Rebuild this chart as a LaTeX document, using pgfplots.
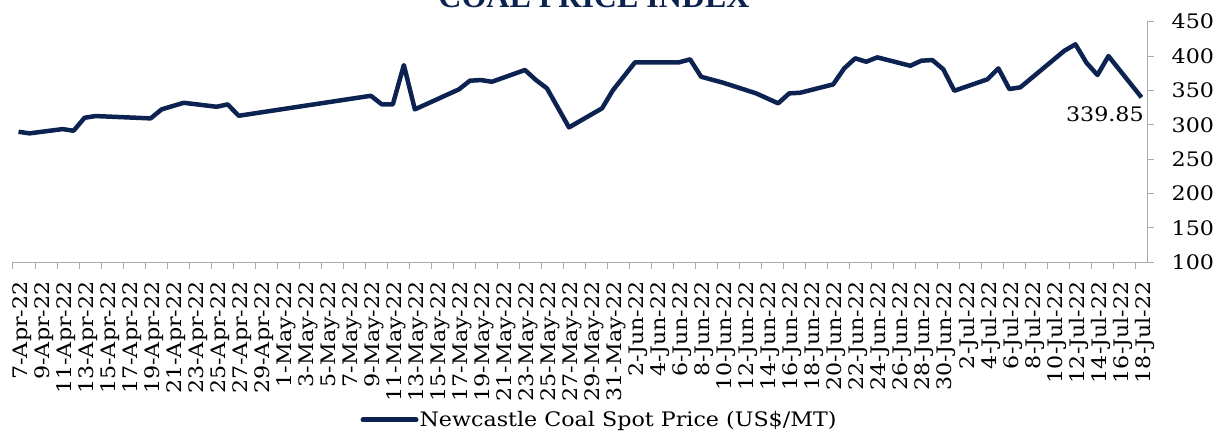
\documentclass[border=0pt]{standalone}
\usepackage{fontspec}
\setmainfont{DejaVu Serif}[FakeStretch=1.11]
\newfontfamily\titlefont{Liberation Serif}
\usepackage{pgfplots}
\pgfplotsset{compat=1.18}
\definecolor{navy}{RGB}{12,35,82}
\definecolor{axgray}{RGB}{170,170,170}
\newcommand{\lblfont}{\fontsize{20bp}{24bp}\selectfont}
\begin{document}
\begin{tikzpicture}
\begin{axis}[
  at={(0,0)}, anchor=south west,
  scale only axis, width=1134bp, height=240.5bp,
  xmin=-0.5, xmax=102.5, ymin=100, ymax=450,
  axis x line*=bottom, axis y line*=right,
  axis line style={axgray, line width=1bp},
  every tick/.style={axgray, line width=1bp},
  tick align=outside, major tick length=7bp,
  xtick={-0.5,1.5,...,101.5},
  xticklabels={7-Apr-22,9-Apr-22,11-Apr-22,13-Apr-22,15-Apr-22,17-Apr-22,19-Apr-22,21-Apr-22,23-Apr-22,25-Apr-22,27-Apr-22,29-Apr-22,
  1-May-22,3-May-22,5-May-22,7-May-22,9-May-22,11-May-22,13-May-22,15-May-22,17-May-22,19-May-22,21-May-22,23-May-22,25-May-22,27-May-22,29-May-22,31-May-22,
  2-Jun-22,4-Jun-22,6-Jun-22,8-Jun-22,10-Jun-22,12-Jun-22,14-Jun-22,16-Jun-22,18-Jun-22,20-Jun-22,22-Jun-22,24-Jun-22,26-Jun-22,28-Jun-22,30-Jun-22,
  2-Jul-22,4-Jul-22,6-Jul-22,8-Jul-22,10-Jul-22,12-Jul-22,14-Jul-22,16-Jul-22,18-Jul-22},
  xticklabel style={xshift=8.7bp, yshift=-12bp, rotate=90, anchor=east, inner sep=0pt, font=\lblfont, text=black},
  ytick={100,150,...,450},
  yticklabel style={xshift=17.5bp, anchor=west, inner sep=0pt, font=\lblfont, text=black},
  /pgf/number format/assume math mode=true,
  legend style={at={(0.5168,-0.656)}, anchor=center, draw=none, fill=none, inner sep=0pt,
    font=\lblfont, nodes={inner sep=1bp},
    /tikz/every even column/.append style={column sep=0pt}},
  legend image code/.code={\draw[#1, line width=5bp, line cap=round] (0bp,0bp) -- (53bp,0bp);},
]
\addplot[navy, line width=4.5bp, line join=round] coordinates {
(0,289.8) (1,287.5) (4,293.7) (5,291.3) (6,310.2) (7,312.7) (12,309.3) (13,322.4)
(15,332.0) (18,326.2) (19,329.7) (20,313.1) (32,342.2) (33,329.7) (34,329.7) (35,386.9)
(36,322.4) (40,351.5) (41,364.1) (42,365.1) (43,362.6) (46,379.7) (47,365.1) (48,353.0)
(50,296.2) (53,323.9) (54,350.5) (56,390.9) (60,390.9) (61,395.2) (62,369.9) (64,361.2)
(67,345.7) (69,331.2) (70,345.7) (71,346.6) (74,358.8) (75,382.1) (76,396.7) (77,391.7)
(78,398.1) (81,385.9) (82,393.2) (83,394.2) (84,380.7) (85,349.5) (88,366.1) (89,382.1)
(90,352.0) (91,354.5) (95,407.8) (96,417.1) (97,390.3) (98,372.4) (99,400.0) (102,339.85)
} node[pos=1, anchor=north east, inner sep=0pt, xshift=4.5bp, yshift=-7bp, font=\lblfont, text=black] {339.85};
\addlegendentry{Newcastle Coal Spot Price (US\$/MT)}
\end{axis}
\node[anchor=base, font=\titlefont\bfseries\fontsize{32bp}{36bp}\selectfont, text=navy] at (581bp,254.2bp) {COAL PRICE INDEX};
\pgfresetboundingbox
\path[use as bounding box] (-13bp,-171.8bp) rectangle (1204bp,262.2bp);
\end{tikzpicture}
\end{document}
